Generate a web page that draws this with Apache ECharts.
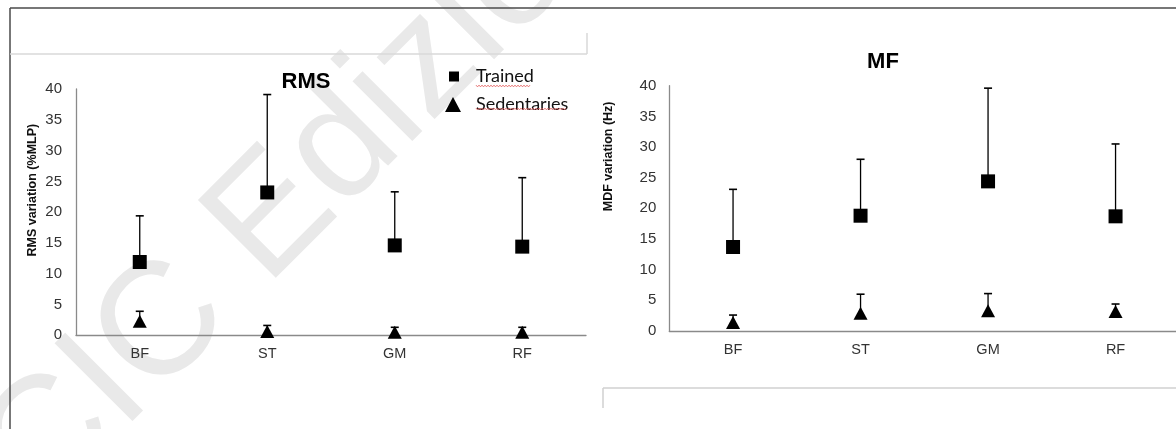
<!DOCTYPE html>
<html><head><meta charset="utf-8">
<script src="https://cdn.jsdelivr.net/npm/echarts@6/dist/echarts.min.js"></script>
<style>html,body{margin:0;padding:0;background:#fff}#c{width:1176px;height:429px}</style>
</head><body><div id="c"></div>
<script>
// ---- data ----
const categories = ['BF', 'ST', 'GM', 'RF'];
const yTickMin = 0, yTickMax = 40, yTickStep = 5;

const rmsTrained      = [11.9, 23.2, 14.6, 14.4];
const rmsTrainedSD    = [7.5, 15.9, 8.7, 11.2];
const rmsSedentary    = [2.3, 0.6, 0.5, 0.5];
const rmsSedentarySD  = [1.6, 1.0, 0.8, 0.8];

const mfTrained       = [13.7, 18.8, 24.4, 18.7];
const mfTrainedSD     = [9.4, 9.2, 15.2, 11.8];
const mfSedentary     = [1.4, 2.9, 3.3, 3.2];
const mfSedentarySD   = [1.2, 3.1, 2.8, 1.2];

const seriesNames = ['Trained', 'Sedentaries'];
const panelTitles = ['RMS', 'MF'];
const yNames = ['RMS variation (%MLP)', 'MDF variation (Hz)'];

// ---- chart ----
const chart = echarts.init(document.getElementById('c'), null, { renderer: 'canvas' });
const FONT = '"Liberation Sans", Arial, sans-serif';
const AXIS_COLOR = '#8a8a8a';

function errorSeries(name, means, sds, idx) {
  return {
    type: 'custom', name: name, xAxisIndex: idx, yAxisIndex: idx, z: 1, silent: true,
    data: categories.map((c, i) => [i, means[i], means[i] + sds[i]]),
    renderItem: function (params, api) {
      const x = api.value(0);
      const p0 = api.coord([x, api.value(1)]);
      const p1 = api.coord([x, api.value(2)]);
      return {
        type: 'group', children: [
          { type: 'line', shape: { x1: p0[0], y1: p0[1], x2: p1[0], y2: p1[1] }, style: { stroke: '#000', lineWidth: 1.3 } },
          { type: 'line', shape: { x1: p1[0] - 4, y1: p1[1], x2: p1[0] + 4, y2: p1[1] }, style: { stroke: '#000', lineWidth: 1.6 } }
        ]
      };
    }
  };
}
function pointSeries(name, values, symbol, size, idx) {
  return {
    type: 'scatter', name: name, xAxisIndex: idx, yAxisIndex: idx, z: 3,
    symbol: symbol, symbolSize: size,
    itemStyle: { color: '#000', opacity: 1 },
    data: values
  };
}
function xAxisCfg(idx) {
  return {
    type: 'category', gridIndex: idx, data: categories, boundaryGap: true,
    axisLine: { show: true, lineStyle: { color: AXIS_COLOR, width: 1.3 } },
    axisTick: { show: false },
    splitLine: { show: false },
    axisLabel: { margin: 11, fontSize: 14.5, color: '#333', fontFamily: FONT }
  };
}
function yAxisCfg(idx, gap, shift, margin) {
  return {
    type: 'value', gridIndex: idx, min: yTickMin, max: yTickMax, interval: yTickStep,
    name: yNames[idx], nameLocation: 'middle', nameGap: gap, nameRotate: 90,
    nameTextStyle: { fontSize: 12.5, fontWeight: 'bold', color: '#111', fontFamily: FONT, padding: [0, 0, 0, shift] },
    axisLine: { show: true, lineStyle: { color: AXIS_COLOR, width: 1.3 } },
    axisTick: { show: false },
    splitLine: { show: false },
    axisLabel: { margin: margin, fontSize: 15, color: '#333', fontFamily: FONT }
  };
}
function zigzag(x0, x1, y) {
  const pts = []; let up = true;
  for (let x = x0; x <= x1; x += 1.5) { pts.push([x, y + (up ? -0.9 : 0.9)]); up = !up; }
  return pts;
}
function hline(x1, x2, y, color, w) {
  return { type: 'line', shape: { x1: x1, y1: y, x2: x2, y2: y }, style: { stroke: color, lineWidth: w }, z: -5 };
}
function vline(x, y1, y2, color, w) {
  return { type: 'line', shape: { x1: x, y1: y1, x2: x, y2: y2 }, style: { stroke: color, lineWidth: w }, z: -5 };
}

const option = {
  animation: false,
  backgroundColor: '#fff',
  grid: [
    { left: 76, top: 89, width: 510, height: 246.3, containLabel: false, outerBoundsMode: 'none' },
    { left: 669.3, top: 85.7, width: 510, height: 245.3, containLabel: false, outerBoundsMode: 'none' }
  ],
  xAxis: [xAxisCfg(0), xAxisCfg(1)],
  yAxis: [yAxisCfg(0, 37, 44, 14), yAxisCfg(1, 54, 104, 13)],
  legend: [
    { data: [{ name: seriesNames[0], icon: 'rect' }], left: 449, top: 67.5, padding: 0,
      itemWidth: 10, itemHeight: 10, selectedMode: false,
      textStyle: { fontFamily: 'Lato, "Open Sans", sans-serif', fontSize: 18, color: '#111', padding: [0, 0, 0, 12] } },
    { data: [{ name: seriesNames[1], icon: 'triangle' }], left: 445, top: 95.5, padding: 0,
      itemWidth: 16, itemHeight: 15, selectedMode: false,
      textStyle: { fontFamily: 'Lato, "Open Sans", sans-serif', fontSize: 18, color: '#111', padding: [0, 0, 0, 10] } }
  ],
  series: [
    errorSeries('Trained SD', rmsTrained, rmsTrainedSD, 0),
    errorSeries('Sedentaries SD', rmsSedentary, rmsSedentarySD, 0),
    pointSeries(seriesNames[0], rmsTrained, 'rect', 14, 0),
    pointSeries(seriesNames[1], rmsSedentary, 'triangle', [14, 13], 0),
    errorSeries('Trained SD', mfTrained, mfTrainedSD, 1),
    errorSeries('Sedentaries SD', mfSedentary, mfSedentarySD, 1),
    pointSeries(seriesNames[0], mfTrained, 'rect', 14, 1),
    pointSeries(seriesNames[1], mfSedentary, 'triangle', [14, 13], 1)
  ],
  graphic: [
    // watermark
    { type: 'text', x: 9, y: 482, rotation: Math.PI / 4, z: -10, silent: true,
      style: { text: 'CIC Edizioni', font: '160px "Liberation Sans", Arial, sans-serif', fill: '#e9e9e9', align: 'left', verticalAlign: 'middle' } },
    // frame lines
    hline(10, 1176, 8, '#4a4a4a', 1.5),
    vline(10, 8, 429, '#4a4a4a', 1.5),
    hline(10, 587, 54, '#d8d8d8', 1.5),
    vline(587, 33, 54, '#d8d8d8', 1.5),
    hline(603, 1176, 388, '#d0d0d0', 1.5),
    vline(603, 388, 408, '#d0d0d0', 1.5),
    // titles
    { type: 'text', x: 306, y: 82, z: 5, style: { text: panelTitles[0], font: 'bold 22px ' + FONT, fill: '#000', align: 'center', verticalAlign: 'middle' } },
    { type: 'text', x: 883, y: 62, z: 5, style: { text: panelTitles[1], font: 'bold 22px ' + FONT, fill: '#000', align: 'center', verticalAlign: 'middle' } },
    // spell-check underlines under legend texts
    { type: 'polyline', z: 5, shape: { points: zigzag(476, 531, 86) }, style: { stroke: '#e35b5b', lineWidth: 0.8, fill: null } },
    { type: 'polyline', z: 5, shape: { points: zigzag(476, 567, 109) }, style: { stroke: '#e35b5b', lineWidth: 0.8, fill: null } }
  ]
};
chart.setOption(option);
</script>
</body></html>
